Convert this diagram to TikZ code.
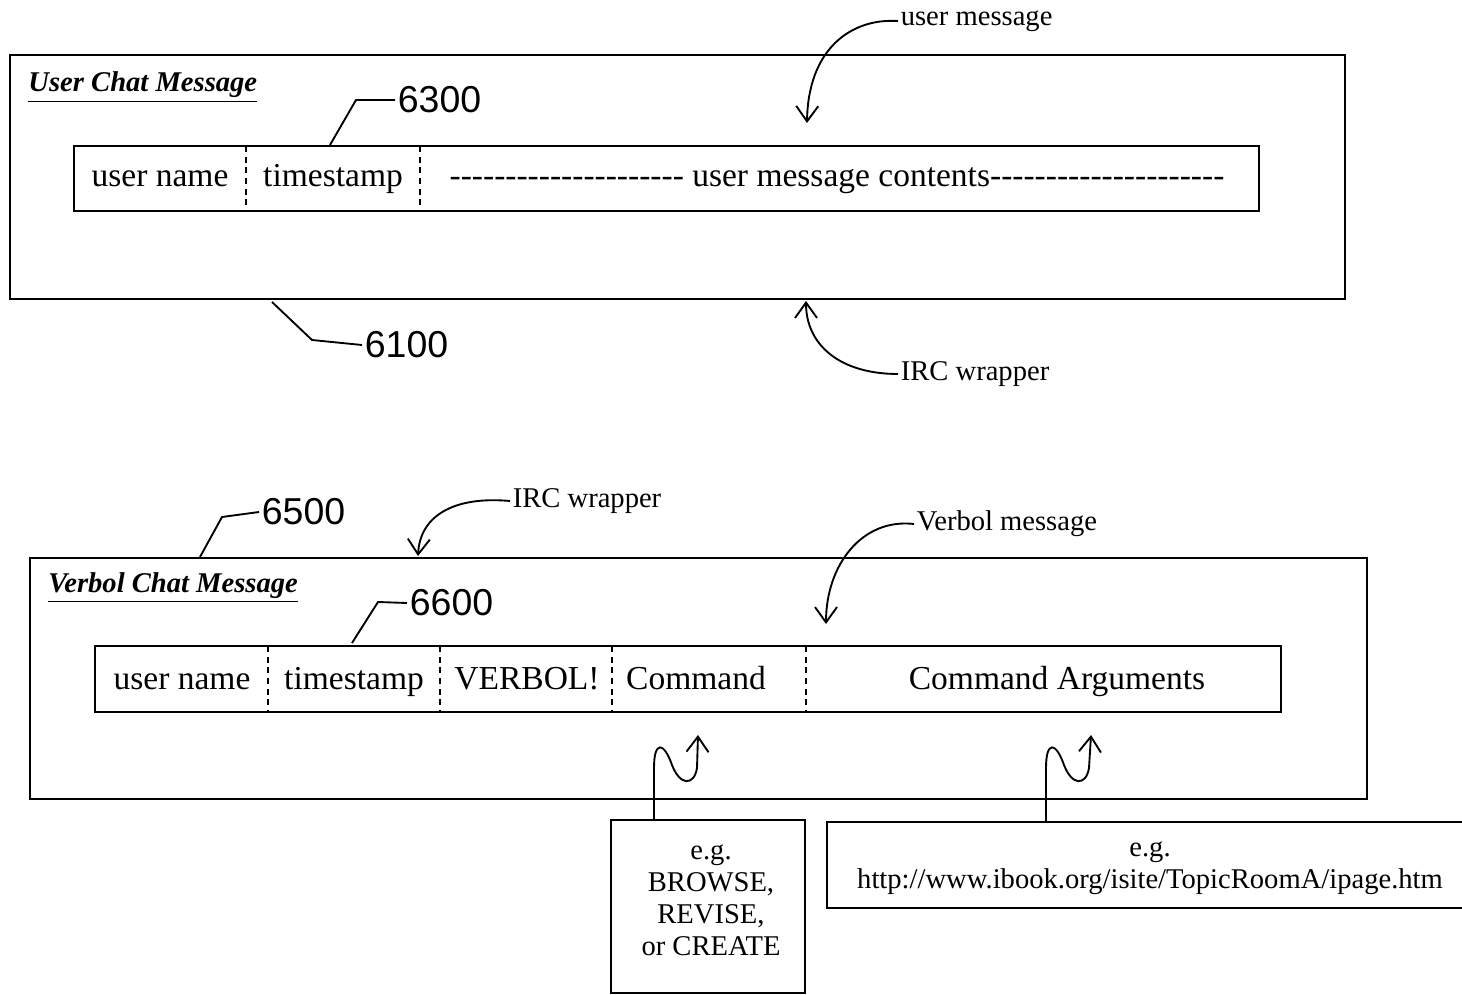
\documentclass[tikz,border=0pt]{standalone}
\usepackage{fontspec}
\setmainfont{Liberation Serif}[Ligatures=TeXOff]
\newfontfamily\handfont{Liberation Sans}
\usetikzlibrary{arrows.meta, positioning}
\newcommand{\fieldsize}{\fontsize{14.3}{16}\selectfont}
\newcommand{\notesize}{\fontsize{12.2}{13.6}\selectfont}
\newcommand{\refsize}{\handfont\fontsize{16}{18}\selectfont}
\newcommand{\titleline}[1]{\setlength{\fboxsep}{0pt}\underline{\textbf{\textit{#1}}}}
\tikzset{
    wrapbox/.style={draw, line width=1pt},
    fieldbox/.style={draw, line width=1pt},
    fieldsep/.style={line width=0.7pt, dash pattern=on 0.9mm off 0.7mm},
    fieldtext/.style={font=\fieldsize, anchor=base, inner sep=0pt},
    titletext/.style={font=\notesize, anchor=base west, inner sep=0pt},
    notetext/.style={font=\notesize, anchor=west, inner sep=1pt},
    refnum/.style={font=\refsize, anchor=west, inner sep=1pt},
    callout/.style={-{Straight Barb[length=2.3mm, width=3.3mm]}, line width=0.8pt},
    leader/.style={line width=0.8pt}
}

\begin{document}
\begin{tikzpicture}[x=0.15mm, y=-0.15mm]
    \useasboundingbox (0,0) rectangle (1462,995);

    % user chat message
    \draw[wrapbox] (10,55) rectangle (1345,299);
    \node[titletext] (utitle) at (28,92) {\titleline{User Chat Message}};
    \draw[fieldbox] (74,146) rectangle (1259,211);
    \foreach \x in {246,420}
        \draw[fieldsep] (\x,146) -- (\x,211);
    \node[fieldtext] (uname) at (160,187) {user name};
    \node[fieldtext] (utime) at (333,187) {timestamp};
    \node[fieldtext] (ubody) at (837,187) {--------------------- user message contents---------------------};

    \node[refnum] (n6300) at (395,100) {6300};
    \draw[leader] (n6300.west) -- (356,100) -- (330,145);
    \node[refnum] (n6100) at (362,345) {6100};
    \draw[leader] (n6100.west) -- (312,340) -- (272,302);

    \node[notetext] (umsg) at (898,21) {user message};
    \coordinate (umsgtip) at (807,123);
    \draw[callout] (umsg.west) .. controls (850,18) and (808,50) .. (umsgtip);
    \node[notetext] (irctop) at (898,374) {IRC wrapper};
    \coordinate (irctoptip) at (806,301);
    \draw[callout] (irctop.west) .. controls (840,374) and (806,345) .. (irctoptip);

    % verbol chat message
    \draw[wrapbox] (30,558) rectangle (1367,799);
    \node[titletext] (vtitle) at (48,592) {\titleline{Verbol Chat Message}};
    \draw[fieldbox] (95,646) rectangle (1281,712);
    \foreach \x in {268,440,612,806}
        \draw[fieldsep] (\x,646) -- (\x,712);
    \node[fieldtext] (vname) at (182,689) {user name};
    \node[fieldtext] (vtime) at (354,689) {timestamp};
    \node[fieldtext] (vflag) at (527,689) {VERBOL!};
    \node[fieldtext] (vcmd) at (696,689) {Command};
    \node[fieldtext] (vargs) at (1057,689) {Command Arguments};

    \node[refnum] (n6500) at (259,512) {6500};
    \draw[leader] (n6500.west) -- (222,517) -- (200,557);
    \node[refnum] (n6600) at (407,603) {6600};
    \draw[leader] (n6600.west) -- (378,602) -- (352,643);

    \node[notetext] (ircbot) at (510,501) {IRC wrapper};
    \coordinate (ircbottip) at (418,556);
    \draw[callout] (ircbot.west) .. controls (455,496) and (420,515) .. (ircbottip);
    \node[notetext] (vmsg) at (914,524) {Verbol message};
    \coordinate (vmsgtip) at (826,624);
    \draw[callout] (vmsg.west) .. controls (862,518) and (826,565) .. (vmsgtip);

    % examples below
    \node[draw, line width=1pt, minimum width=29.1mm, minimum height=25.95mm] (cmdex) at (708,906.5) {};
    \node[font=\notesize, align=center] (cmdtxt) at (711,900) {e.g.\\BROWSE,\\REVISE,\\or CREATE};
    \draw[line width=1pt] (1462,822) -- (827,822) -- (827,908) -- (1462,908);
    \node[font=\notesize, align=center] (argtxt) at (1150,868) {e.g.\\http://www.ibook.org/isite/TopicRoomA/ipage.htm};

    \coordinate (cmdstem) at (654,820);
    \coordinate (cmdtip) at (698,735);
    \draw[callout] (cmdstem) -- (654,768) .. controls (654,740) and (664,742) .. (672,765)
        .. controls (680,786) and (694,786) .. (697,768) -- (cmdtip);
    \coordinate (argstem) at (1046,822);
    \coordinate (argtip) at (1091,735);
    \draw[callout] (argstem) -- (1046,768) .. controls (1046,740) and (1056,742) .. (1064,765)
        .. controls (1072,786) and (1086,786) .. (1089,768) -- (argtip);
\end{tikzpicture}
\end{document}
